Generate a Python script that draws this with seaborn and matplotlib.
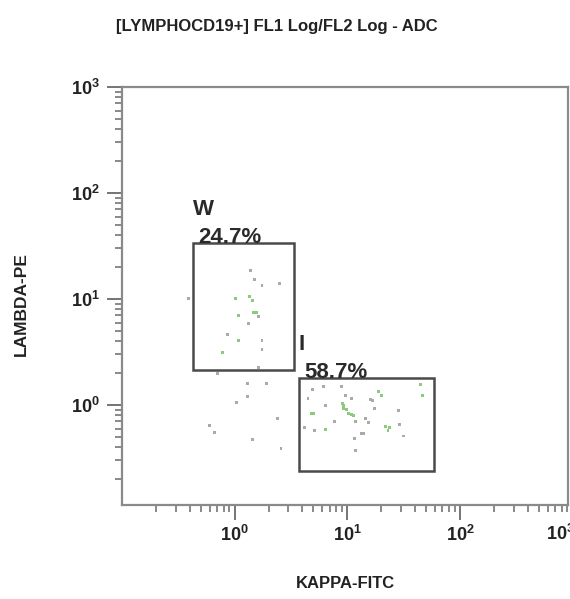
import matplotlib
matplotlib.use("Agg")
import matplotlib.pyplot as plt
from matplotlib.ticker import LogLocator, NullFormatter
from matplotlib.patches import Rectangle
import seaborn as sns
import pandas as pd

# ---------------- data ----------------
title = "[LYMPHOCD19+] FL1 Log/FL2 Log - ADC"
x_label = "KAPPA-FITC"
y_label = "LAMBDA-PE"

kappa = [1.39, 1.51, 1.75, 2.5, 0.39, 1.01, 1.35, 1.43, 1.47, 1.55,
         1.63, 1.09, 1.34, 0.86, 1.09, 1.75, 1.75, 0.785, 1.62, 0.71,
         1.30, 1.92, 1.30, 1.04, 2.40, 0.60, 0.66, 1.43, 2.58,
         4.92, 6.21, 8.85, 44.6, 46.7, 4.48, 9.73, 10.9, 19.0, 20.0,
         16.0, 16.6, 6.47, 9.08, 9.27, 9.27, 9.8, 10.3, 10.9, 11.4,
         17.5, 28.3, 4.82, 5.06, 14.5, 15.5, 11.8, 7.66, 4.17, 5.12,
         6.47, 21.9, 23.0, 23.6, 29.0, 31.5, 13.5, 14.0, 11.7, 11.9]
lambda_ = [18.4, 15.4, 13.3, 14.1, 10.2, 10.2, 10.5, 9.6, 7.4, 7.4,
           6.9, 6.95, 5.85, 4.64, 4.05, 4.05, 3.37, 3.14, 2.27, 1.99,
           1.58, 1.58, 1.20, 1.06, 0.75, 0.64, 0.55, 0.47, 0.39,
           1.41, 1.49, 1.49, 1.57, 1.22, 1.15, 1.24, 1.15, 1.35, 1.24,
           1.13, 1.10, 0.98, 1.04, 0.98, 0.92, 0.90, 0.84, 0.82, 0.79,
           0.93, 0.88, 0.84, 0.84, 0.75, 0.68, 0.70, 0.70, 0.61, 0.58,
           0.59, 0.63, 0.58, 0.61, 0.66, 0.51, 0.54, 0.54, 0.48, 0.37]
event_tone = ["k", "k", "k", "k", "k", "g", "g", "g", "g", "g",
              "k", "g", "k", "k", "g", "k", "k", "g", "k", "k",
              "k", "k", "k", "k", "k", "k", "k", "k", "k",
              "k", "k", "k", "g", "g", "k", "k", "k", "g", "g",
              "k", "k", "k", "g", "g", "g", "g", "g", "g", "g",
              "k", "k", "g", "g", "k", "k", "k", "k", "k", "k",
              "g", "g", "g", "g", "k", "k", "k", "k", "k", "k"]

gate_names = ["W", "I"]
gate_pcts = ["24.7%", "58.7%"]
gate_x0 = [0.428, 3.72]
gate_x1 = [3.38, 58.5]
gate_y0 = [2.12, 0.238]
gate_y1 = [33.7, 1.80]

tick_values = [1, 10, 100, 1000]
tick_labels = [r"$\mathbf{10^{0}}$", r"$\mathbf{10^{1}}$",
               r"$\mathbf{10^{2}}$", r"$\mathbf{10^{3}}$"]

# ---------------- style ----------------
sns.set_style("white")
plt.rcParams["font.family"] = ["Liberation Sans", "DejaVu Sans"]
plt.rcParams["mathtext.fontset"] = "custom"
plt.rcParams["mathtext.rm"] = "Liberation Sans:bold"
plt.rcParams["mathtext.bf"] = "Liberation Sans:bold"
plt.rcParams["mathtext.it"] = "Liberation Sans:bold"

df = pd.DataFrame({"kappa": kappa, "lambda": lambda_, "tone": event_tone})

fig = plt.figure(figsize=(5.70, 5.99), dpi=100)
ax = fig.add_axes([122 / 570, 94 / 599, 446 / 570, 418 / 599])

sns.scatterplot(data=df, x="kappa", y="lambda", hue="tone",
                palette={"g": "#8ccb7e", "k": "#a8aba6"},
                marker="s", s=4.5, linewidth=0, legend=False, ax=ax)

ax.set_xscale("log")
ax.set_yscale("log")
ax.set_xlim(0.1, 912)
ax.set_ylim(0.114, 1000)

# gates
for name, pct, x0, x1, y0, y1 in zip(gate_names, gate_pcts, gate_x0, gate_x1, gate_y0, gate_y1):
    ax.add_patch(Rectangle((x0, y0), x1 - x0, y1 - y0, fill=False,
                           edgecolor="#4a4a4a", linewidth=1.8, zorder=3))
    ax.annotate(name, xy=(x0, y1), xytext=(0, 28), textcoords="offset pixels",
                ha="left", va="baseline", fontsize=16, fontweight="bold", color="#2a2a2a")
    ax.annotate(pct, xy=(x0, y1), xytext=(5, 0), textcoords="offset pixels",
                ha="left", va="baseline", fontsize=16, fontweight="bold", color="#2a2a2a")

# axes styling
for side in ["left", "bottom", "top", "right"]:
    ax.spines[side].set_color("#8a8a8a")
    ax.spines[side].set_linewidth(1.6)

ax.set_xticks(tick_values[:3], tick_labels[:3])
ax.set_yticks(tick_values, tick_labels)
ax.xaxis.set_minor_locator(LogLocator(base=10, subs=range(2, 10), numticks=20))
ax.yaxis.set_minor_locator(LogLocator(base=10, subs=range(2, 10), numticks=20))
ax.xaxis.set_minor_formatter(NullFormatter())
ax.yaxis.set_minor_formatter(NullFormatter())
ax.tick_params(which="major", direction="out", length=11, width=1.3,
               color="#6a6a6a", labelsize=13, labelcolor="#222222")
ax.tick_params(which="minor", direction="out", length=5, width=1.1, color="#6a6a6a")
ax.tick_params(axis="x", which="major", pad=3)
ax.tick_params(axis="y", which="major", pad=5)
ax.tick_params(bottom=True, left=True, which="both")

# 10^3 label at the right edge (partly cut by the figure border, as in the reference)
ax.annotate(tick_labels[3], xy=(tick_values[3], 0), xycoords=("data", "axes fraction"),
            xytext=(-12, -19), textcoords="offset pixels", ha="center", va="top",
            fontsize=13, color="#222222", annotation_clip=False)

ax.set_xlabel("")
ax.set_ylabel("")
fig.text(345 / 570, 1 - 584 / 599, x_label, ha="center", va="center",
         fontsize=12, fontweight="bold", color="#222222")
fig.text(21 / 570, 1 - 304 / 599, y_label, ha="center", va="center", rotation=90,
         fontsize=12.5, fontweight="bold", color="#222222")
fig.text(277 / 570, 1 - 27 / 599, title, ha="center", va="center",
         fontsize=12, fontweight="bold", color="#222222")

fig.savefig("out.png", dpi=100)
